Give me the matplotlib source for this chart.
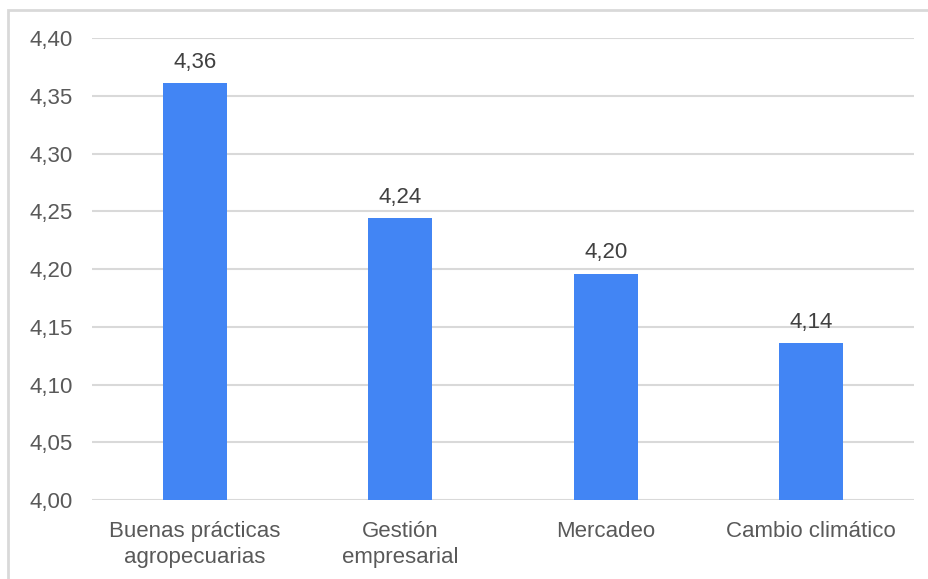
#!/usr/bin/env python3
"""Bar chart: average score per training topic"""
import matplotlib.pyplot as plt
from matplotlib.patches import Rectangle

categories = ['Buenas prácticas\nagropecuarias', 'Gestión\nempresarial', 'Mercadeo', 'Cambio climático']
values = [4.361, 4.244, 4.196, 4.136]
y_ticks = [4.00, 4.05, 4.10, 4.15, 4.20, 4.25, 4.30, 4.35, 4.40]


def fmt(v):
    return f'{v:.2f}'.replace('.', ',')


plt.rcParams['font.family'] = ['Liberation Sans', 'DejaVu Sans']
text_color = '#595959'

fig = plt.figure(figsize=(9.29, 5.79), dpi=100)
W, H = 929, 579
ax = fig.add_axes([92 / W, 1 - 500 / H, (914 - 92) / W, (500 - 38) / H])

# outer frame (only top and left edges are inside the picture)
fig.patches.append(Rectangle((8 / W, -0.1), 1.2, 1 - 10 / H + 0.1, transform=fig.transFigure,
                             fill=False, edgecolor='#d9d9d9', linewidth=2))

x = range(len(categories))
bars = ax.bar(x, values, width=0.31, bottom=0, color='#4285f4', zorder=3)
ax.set_ylim(4.0, 4.4)
ax.set_xlim(-0.5, len(categories) - 0.5)

for b, v in zip(bars, values):
    ax.text(b.get_x() + b.get_width() / 2, v + 0.009, fmt(v), ha='center', va='bottom',
            fontsize=16, color='#404040')

ax.set_yticks(y_ticks)
ax.set_yticklabels([fmt(t) for t in y_ticks], fontsize=16, color=text_color)
ax.set_xticks(list(x))
ax.set_xticklabels(categories, fontsize=16, color=text_color, linespacing=1.3)
ax.tick_params(axis='both', length=0)
ax.tick_params(axis='y', pad=14)
ax.tick_params(axis='x', pad=15)
ax.grid(True, axis='y', color='#d9d9d9', linewidth=1.5, zorder=0)
for s in ax.spines.values():
    s.set_visible(False)

plt.savefig('out.png')
plt.close()
